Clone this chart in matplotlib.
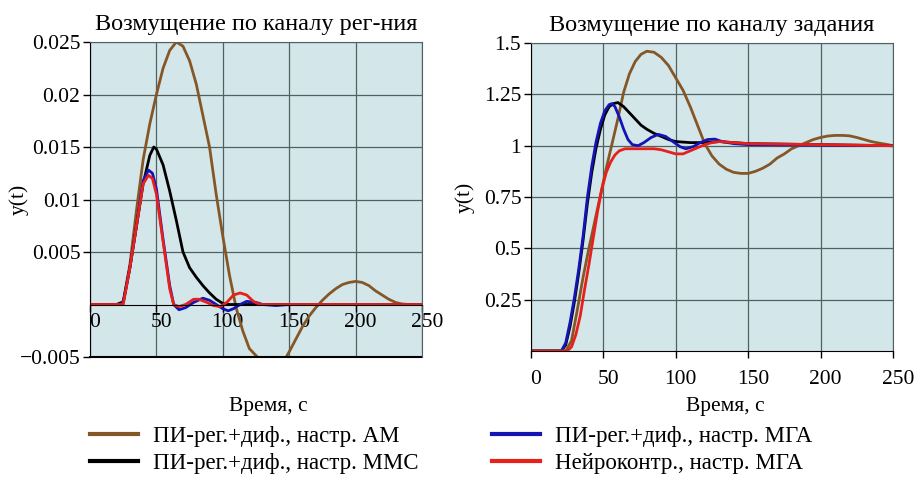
import matplotlib
matplotlib.use("Agg")
import matplotlib.pyplot as plt
import matplotlib.transforms as mtransforms
from matplotlib.lines import Line2D

plt.rcParams['font.family'] = ['Liberation Serif', 'DejaVu Serif']

# ---------------- data: left panel (disturbance on regulation channel) -------------
t_l_am = [0, 20, 25, 30, 35, 40, 45, 50, 55, 60, 65, 70, 75, 80, 85, 90, 95, 100, 105, 110,
          115, 120, 126, 130, 135, 140, 145, 150, 155, 160, 165, 170, 175, 180, 185, 190,
          195, 200, 205, 210, 215, 220, 225, 230, 235, 240, 250]
y_l_am = [0, 0, 0.0003, 0.0038, 0.009, 0.0138, 0.0172, 0.02, 0.0225, 0.0242, 0.025, 0.0246,
          0.0232, 0.021, 0.018, 0.015, 0.0105, 0.0065, 0.0028, -0.0003, -0.0025, -0.0042,
          -0.005, -0.0058, -0.0063, -0.0062, -0.0056, -0.0045, -0.0033, -0.0021, -0.0011,
          -0.0003, 0.0004, 0.001, 0.0015, 0.0019, 0.0021, 0.0022, 0.0021, 0.0018, 0.0013,
          0.0009, 0.0005, 0.0002, 0.00005, 0, 0]

t_l_mmc = [0, 20, 25, 30, 35, 40, 45, 48, 50, 55, 60, 65, 70, 75, 80, 85, 90, 95, 100, 105, 250]
y_l_mmc = [0, 0, 0.0002, 0.0035, 0.0075, 0.0115, 0.0142, 0.015, 0.0148, 0.0133, 0.0108,
           0.008, 0.005, 0.0035, 0.0026, 0.0018, 0.0011, 0.0005, 0.0001, 0, 0]

t_l_mga = [0, 22, 25, 30, 35, 40, 44, 47, 50, 55, 60, 63, 67, 72, 78, 85, 90, 95, 100, 104,
           108, 113, 118, 125, 130, 140, 150, 250]
y_l_mga = [0, 0, 0.0002, 0.0035, 0.0075, 0.0118, 0.0128, 0.0125, 0.011, 0.0062, 0.0018, 0.0,
           -0.0005, -0.0003, 0.0002, 0.0006, 0.0004, 0.0, -0.0004, -0.0006, -0.0004, 0.0,
           0.0003, 0.0002, 0.0, -0.0001, 0, 0]

t_l_nn = [0, 25, 30, 35, 40, 44, 47, 50, 55, 60, 63, 67, 72, 78, 82, 88, 93, 98, 103, 108,
          113, 118, 123, 128, 250]
y_l_nn = [0, 0, 0.0035, 0.0075, 0.0115, 0.0123, 0.012, 0.0105, 0.006, 0.0015, 0.0, -0.0002,
          0.0, 0.0005, 0.0005, 0.0002, -0.0001, -0.0002, 0.0002, 0.0009, 0.0011, 0.0009,
          0.0003, 0.0, 0]

# ---------------- data: right panel (disturbance on setpoint channel) -------------
t_r_am = [0, 24, 28, 32, 36, 40, 44, 48, 52, 56, 60, 64, 68, 72, 76, 80, 85, 90, 95, 100,
          105, 110, 115, 120, 125, 130, 135, 140, 145, 150, 155, 160, 165, 170, 175, 180,
          185, 190, 195, 200, 205, 210, 215, 220, 225, 230, 235, 240, 245, 250]
y_r_am = [0, 0, 0.05, 0.2, 0.36, 0.5, 0.63, 0.76, 0.89, 1.01, 1.13, 1.26, 1.35, 1.41, 1.445,
          1.46, 1.455, 1.43, 1.39, 1.33, 1.27, 1.19, 1.1, 1.01, 0.95, 0.91, 0.885, 0.87,
          0.865, 0.865, 0.875, 0.89, 0.91, 0.94, 0.96, 0.985, 1.0, 1.015, 1.03, 1.04, 1.047,
          1.05, 1.05, 1.048, 1.04, 1.03, 1.02, 1.013, 1.007, 1.0]

t_r_mmc = [0, 21, 24, 27, 30, 33, 36, 39, 42, 45, 48, 51, 54, 57, 60, 64, 68, 72, 76, 80,
           85, 90, 95, 100, 110, 120, 130, 140, 150, 250]
y_r_mmc = [0, 0, 0.03, 0.12, 0.24, 0.38, 0.54, 0.72, 0.87, 0.99, 1.08, 1.15, 1.19, 1.205,
           1.21, 1.19, 1.16, 1.13, 1.1, 1.08, 1.06, 1.045, 1.03, 1.02, 1.015, 1.015, 1.02,
           1.015, 1.01, 1.0]

t_r_mga = [0, 21, 24, 27, 30, 33, 36, 39, 42, 45, 48, 51, 54, 56, 58, 61, 64, 67, 70, 74,
           78, 83, 88, 93, 98, 103, 107, 112, 117, 122, 127, 132, 140, 150, 250]
y_r_mga = [0, 0, 0.04, 0.14, 0.26, 0.4, 0.56, 0.75, 0.9, 1.02, 1.11, 1.17, 1.2, 1.205, 1.19,
           1.14, 1.08, 1.03, 1.005, 1.0, 1.015, 1.04, 1.055, 1.045, 1.02, 0.995, 0.985,
           0.995, 1.015, 1.03, 1.032, 1.02, 1.01, 1.005, 1.0]

t_r_nn = [0, 25, 28, 31, 34, 37, 40, 43, 46, 49, 52, 55, 58, 61, 65, 70, 80, 85, 90, 95,
          100, 105, 110, 115, 120, 125, 130, 140, 150, 250]
y_r_nn = [0, 0, 0.02, 0.08, 0.17, 0.3, 0.42, 0.55, 0.68, 0.79, 0.87, 0.92, 0.955, 0.975,
          0.985, 0.985, 0.985, 0.985, 0.98, 0.97, 0.96, 0.96, 0.975, 0.99, 1.005, 1.015,
          1.02, 1.015, 1.01, 1.0]

x_ticks = [0, 50, 100, 150, 200, 250]
yl_ticks = [-0.005, 0.005, 0.01, 0.015, 0.02, 0.025]
yl_labels = ["\u22120.005", "0.005", "0.01", "0.015", "0.02", "0.025"]
yr_ticks = [0.25, 0.5, 0.75, 1.0, 1.25, 1.5]
yr_labels = ["0.25", "0.5", "0.75", "1", "1.25", "1.5"]

titles = ["Возмущение по каналу рег-ния", "Возмущение по каналу задания"]
labels = ["ПИ-рег.+диф., настр. АМ", "ПИ-рег.+диф., настр. ММС",
          "ПИ-рег.+диф., настр. МГА", "Нейроконтр., настр. МГА"]

C_AM, C_MMC, C_MGA, C_NN = "#865726", "#000000", "#1414b4", "#e8201c"
BG = "#d3e6ea"
GRID = "#52615f"
FS_TICK = 15.5
FS_TITLE = 17.5
FS_LAB = 15.5
FS_LEG = 16.5

fig = plt.figure(figsize=(9.15, 4.79), dpi=100)
axL = fig.add_axes([0.0984, 0.2547, 0.3628, 0.6576])
axR = fig.add_axes([0.5803, 0.2672, 0.3956, 0.643])

shift = mtransforms.ScaledTranslation(5 / 100, 0, fig.dpi_scale_trans)

for ax in (axL, axR):
    ax.set_facecolor(BG)
    ax.set_xlim(0, 250)
    ax.set_xticks(x_ticks)
    ax.grid(True, color=GRID, lw=0.9)
    ax.set_axisbelow(True)
    for s in ("top", "right"):
        ax.spines[s].set_color(GRID)
    ax.spines["left"].set_color("black")
    ax.spines["bottom"].set_color("black")
    ax.tick_params(labelsize=FS_TICK, length=5, width=1, direction="out", pad=2)
    ax.set_ylabel("y(t)", fontsize=FS_LAB, labelpad=2)

lw = 2.0
axL.plot(t_l_am, y_l_am, color=C_AM, lw=lw)
axL.plot(t_l_mmc, y_l_mmc, color=C_MMC, lw=lw)
axL.plot(t_l_mga, y_l_mga, color=C_MGA, lw=lw)
axL.plot(t_l_nn, y_l_nn, color=C_NN, lw=lw)
axL.set_ylim(-0.005, 0.025)
axL.set_yticks(yl_ticks)
axL.set_yticklabels(yl_labels)
axL.spines["bottom"].set_position(("data", 0))
axL.axhline(-0.005, color="black", lw=1.5, clip_on=False)
axL.tick_params(axis="x", pad=1)
axL.set_title(titles[0], fontsize=FS_TITLE, pad=9)
axL.yaxis.set_label_coords(-0.185, 0.5)
fig.text(268 / 915, 1 - 407 / 479, "Время, с", ha="center", va="center", fontsize=FS_LAB)

axR.plot(t_r_am, y_r_am, color=C_AM, lw=lw)
axR.plot(t_r_mmc, y_r_mmc, color=C_MMC, lw=lw)
axR.plot(t_r_mga, y_r_mga, color=C_MGA, lw=lw)
axR.plot(t_r_nn, y_r_nn, color=C_NN, lw=lw)
axR.set_ylim(0, 1.5)
axR.set_yticks(yr_ticks)
axR.set_yticklabels(yr_labels)
axR.tick_params(axis="x", pad=9)
axR.set_title(titles[1], fontsize=FS_TITLE, pad=9)
axR.yaxis.set_label_coords(-0.155, 0.5)
fig.text(725 / 915, 1 - 407 / 479, "Время, с", ha="center", va="center", fontsize=FS_LAB)

for ax in (axL, axR):
    for lab in ax.get_xticklabels():
        lab.set_transform(lab.get_transform() + shift)

handles = [Line2D([], [], color=c, lw=3) for c in (C_AM, C_MMC, C_MGA, C_NN)]
legkw = dict(frameon=False, fontsize=FS_LEG, handlelength=2.1, handletextpad=0.65,
             labelspacing=0.25, borderaxespad=0, borderpad=0)
fig.legend(handles[:2], labels[:2], loc="upper left", bbox_to_anchor=(90 / 915, 1 - 426 / 479), **legkw)
fig.legend(handles[2:], labels[2:], loc="upper left", bbox_to_anchor=(492 / 915, 1 - 426 / 479), **legkw)

fig.savefig("out.png", dpi=100)
